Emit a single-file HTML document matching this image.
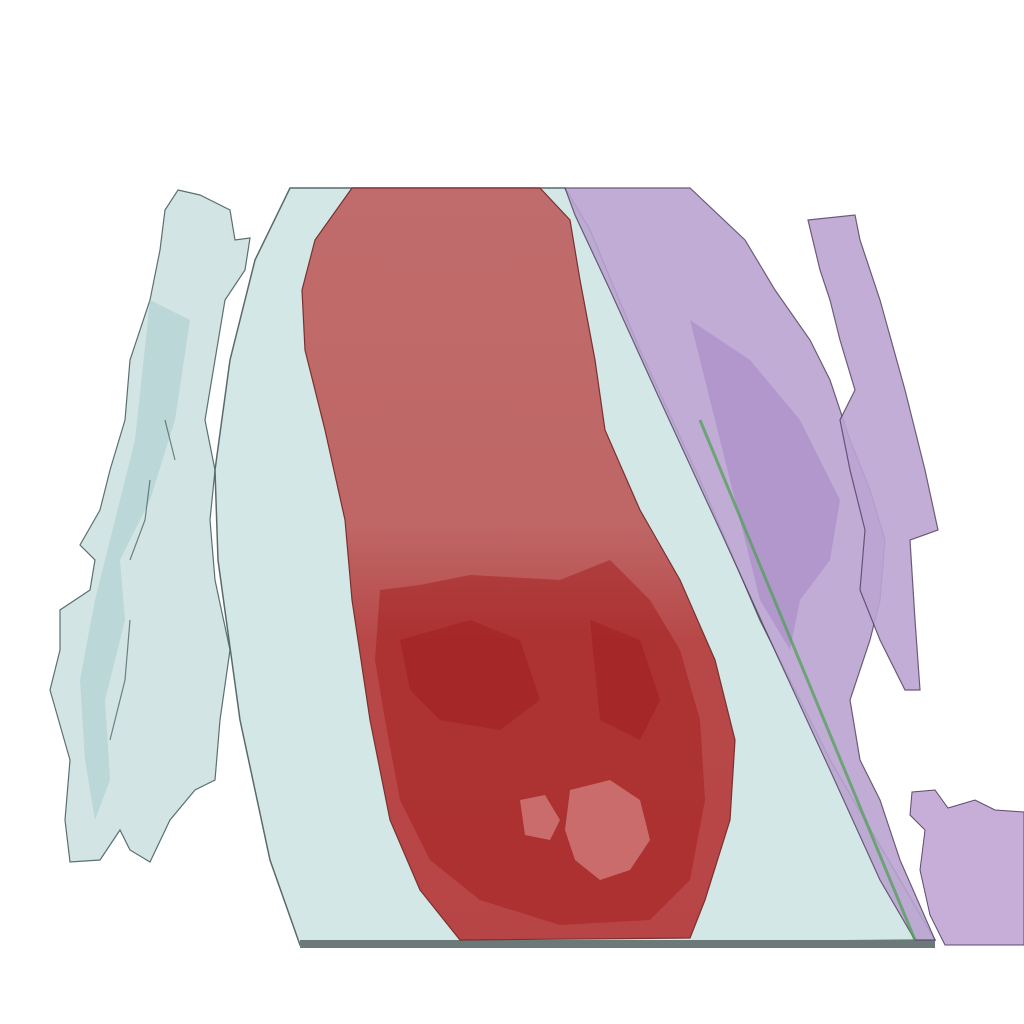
<!DOCTYPE html>
<html>
<head>
<meta charset="utf-8">
<style>
html,body{margin:0;padding:0;background:#fff;}
svg{display:block;}
</style>
</head>
<body>
<svg width="1024" height="1024" viewBox="0 0 1024 1024">
  <defs>
    <linearGradient id="redg" x1="0" y1="0" x2="0" y2="1">
      <stop offset="0" stop-color="#c06c6c"/>
      <stop offset="0.45" stop-color="#bf6666"/>
      <stop offset="0.6" stop-color="#b84848"/>
      <stop offset="1" stop-color="#b84545"/>
    </linearGradient>
  </defs>
  <rect width="1024" height="1024" fill="#ffffff"/>

  <path
    d="M178,190 L200,195 L230,210 L235,240 L250,238 L245,270 L225,300 L215,360 L205,420 L215,470 L210,520 L215,580 L230,650 L220,720 L215,780 L195,790 L170,820 L150,862 L130,850 L120,830 L100,860 L70,862 L65,820 L70,760 L50,690 L60,650 L60,610 L90,590 L95,560 L80,545 L100,510 L110,470 L125,420 L130,360 L150,300 L160,250 L165,210 Z"
    fill="#d2e5e4" stroke="#5a7070" stroke-width="1.2"/>
  <path
    d="M150,300 L190,320 L175,420 L150,500 L120,560 L125,620 L105,700 L110,780 L95,820 L85,760 L80,680 L95,600 L115,520 L135,440 Z"
    fill="#aacccc" opacity="0.55"/>
  <path fill="none" stroke="#3f5656" stroke-width="1.2" opacity="0.7"
    d="M130,620 L125,680 L110,740 M150,480 L145,520 L130,560 M165,420 L175,460"/>

  <path
    d="M290,188 L565,188 L590,230 L640,350 L700,480 L760,620 L830,760 L900,880 L935,940 L300,945 L270,860 L240,720 L218,560 L215,470 L230,360 L255,260 Z"
    fill="#d3e8e6" stroke="#5a6a6a" stroke-width="1.5"/>
  <rect x="300" y="940" width="635" height="8" fill="#6b7a78"/>

  <path
    d="M565,188 L690,188 L745,240 L775,290 L810,340 L830,380 L850,440 L870,490 L885,540 L880,600 L870,640 L850,700 L860,760 L880,800 L900,860 L935,940 L915,940 L880,880 L830,770 L770,640 L720,530 L660,400 L610,290 L575,215 Z"
    fill="#bba4d2" stroke="#5c4a6a" stroke-width="1.2" opacity="0.9"/>
  <path
    d="M808,220 L855,215 L860,240 L880,300 L905,390 L925,470 L938,530 L910,540 L915,620 L920,690 L905,690 L880,640 L860,590 L865,530 L850,470 L840,420 L855,390 L840,340 L830,300 L820,270 Z"
    fill="#bca5d3" stroke="#5c4a6a" stroke-width="1.2" opacity="0.9"/>
  <path
    d="M690,320 L750,360 L800,420 L840,500 L830,560 L800,600 L790,650 L760,600 L740,520 L720,440 Z"
    fill="#9c78c0" opacity="0.4"/>
  <line x1="700" y1="420" x2="915" y2="940" stroke="#4aa050" stroke-width="3" opacity="0.7"/>
  <path
    d="M912,792 L935,790 L948,808 L975,800 L995,810 L1024,812 L1024,945 L945,945 L930,915 L920,870 L925,830 L910,815 Z"
    fill="#c6aed9" stroke="#5c4a6a" stroke-width="1"/>

  <path
    d="M352,188 L540,188 L570,220 L580,280 L595,360 L605,430 L640,510 L680,580 L715,660 L735,740 L730,820 L705,900 L690,938 L460,940 L420,890 L390,820 L370,720 L352,600 L345,520 L325,430 L305,350 L302,290 L315,240 Z"
    fill="url(#redg)" stroke="#7a3030" stroke-width="1.2"/>
  <path
    d="M380,590 L420,585 L470,575 L560,580 L610,560 L650,600 L680,650 L700,720 L705,800 L690,880 L650,920 L560,925 L480,900 L430,860 L400,800 L385,720 L375,660 Z"
    fill="#a01818" opacity="0.45"/>
  <path
    d="M400,640 L470,620 L520,640 L540,700 L500,730 L440,720 L410,690 Z" fill="#9a1515" opacity="0.35"/>
  <path
    d="M590,620 L640,640 L660,700 L640,740 L600,720 Z" fill="#9a1515" opacity="0.35"/>
  <path
    d="M570,790 L610,780 L640,800 L650,840 L630,870 L600,880 L575,860 L565,830 Z"
    fill="#d48080" opacity="0.75"/>
  <path
    d="M520,800 L545,795 L560,820 L550,840 L525,835 Z"
    fill="#d48080" opacity="0.75"/>
</svg>
</body>
</html>
